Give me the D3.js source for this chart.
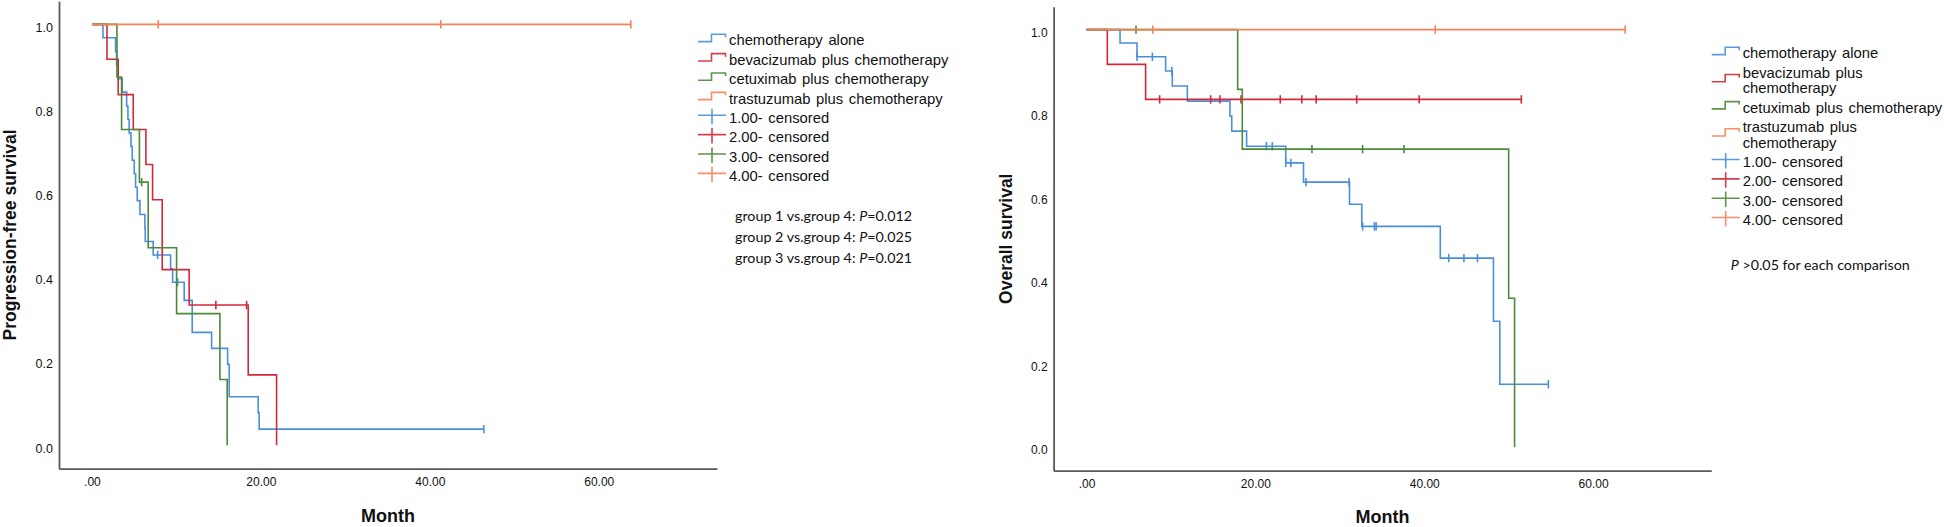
<!DOCTYPE html>
<html><head><meta charset="utf-8">
<script src="https://cdn.jsdelivr.net/npm/d3@7"></script>
<style>
html,body{margin:0;padding:0;background:#fff;}
svg{display:block;font-family:"Liberation Sans",Arial,sans-serif;}
</style></head>
<body>
<svg id="c" width="1944" height="527"></svg>
<script>
// ---------------- data ----------------
const groupNames = ["chemotherapy alone","bevacizumab plus chemotherapy","cetuximab plus chemotherapy","trastuzumab plus chemotherapy"];
const groupNamesWrapped = [["chemotherapy alone"],["bevacizumab plus","chemotherapy"],["cetuximab plus chemotherapy"],["trastuzumab plus","chemotherapy"]];
const censorLabels = ["1.00- censored","2.00- censored","3.00- censored","4.00- censored"];
const colors = ["#4a8fda","#d3283a","#4b8a38","#f7825a"];
const xTickValues = [0,20,40,60];
const xTickLabels = [".00","20.00","40.00","60.00"];
const yTickValues = [0,0.2,0.4,0.6,0.8,1.0];
const yTickLabels = ["0.0","0.2","0.4","0.6","0.8","1.0"];

// Progression-free survival (left)
const pfsChemoTimes = [1.3,2.8,2.92,3.11,3.59,4.11,4.26,4.41,4.62,4.77,5.01,5.17,5.36,5.68,6.27,6.31,7.25,9.31,9.55,10.92,11.87,14.17,16.06,16.25,19.68,19.8];
const pfsChemoSurv  = [0.968,0.935,0.903,0.871,0.839,0.806,0.774,0.742,0.710,0.677,0.645,0.613,0.581,0.548,0.516,0.484,0.452,0.419,0.387,0.344,0.268,0.230,0.192,0.115,0.077,0.038];
const pfsChemoCens  = [7.78,10.14,46.4];
const pfsBevaTimes = [1.78,3.11,4.89,6.39,7.18,8.32,11.51,18.5,21.86];
const pfsBevaSurv  = [0.917,0.833,0.75,0.667,0.583,0.417,0.333,0.167,0];
const pfsBevaCens  = [14.67,18.31];
const pfsCetuTimes = [2.96,3.51,5.62,6.66,10.02,15.15,16.01];
const pfsCetuSurv  = [0.875,0.75,0.625,0.469,0.3125,0.156,0];
const pfsCetuCens  = [5.88];
const pfsTrasTimes = [];
const pfsTrasSurv  = [];
const pfsTrasCens  = [7.85,41.3,63.8];

// Overall survival (right)
const osChemoTimes = [3.97,5.98,9.37,10.16,11.94,16.99,17.2,18.96,23.6,25.7,31.15,32.6,41.9,48.2,48.95];
const osChemoSurv  = [0.968,0.935,0.901,0.865,0.829,0.793,0.757,0.721,0.681,0.635,0.582,0.529,0.453,0.302,0.151];
const osChemoCens  = [5.98,7.8,10.1,21.3,22.0,23.6,24.2,26.0,31.1,32.7,34.1,34.3,42.9,44.7,46.3,54.7];
const osBevaTimes = [2.46,7.0];
const osBevaSurv  = [0.917,0.833];
const osBevaCens  = [8.66,14.7,15.8,18.3,22.95,25.5,27.2,32.0,39.4,51.5];
const osCetuTimes = [17.9,18.45,50.0,50.7];
const osCetuSurv  = [0.857,0.714,0.357,0];
const osCetuCens  = [5.86,26.7,32.7,37.6];
const osTrasTimes = [];
const osTrasSurv  = [];
const osTrasCens  = [7.85,41.3,63.8];

const pfsStats = [["group 1 vs.group 4: ","P","=0.012"],["group 2 vs.group 4: ","P","=0.025"],["group 3 vs.group 4: ","P","=0.021"]];
const osStats = [["","P"," >0.05 for each comparison"]];

// ---------------- drawing ----------------
const svg = d3.select("#c");
svg.append("rect").attr("width",1944).attr("height",527).attr("fill","#fff");

function survAt(times, surv, t){
  let s = 1;
  for (let i=0;i<times.length;i++){ if (times[i] <= t + 1e-9) s = surv[i]; }
  return s;
}

function panel(cfg){
  const x = d3.scaleLinear().domain([-3.9,74]).range(cfg.xRange);
  const y = d3.scaleLinear().domain([-0.056,1.055]).range(cfg.yRange);
  const g = svg.append("g");

  // axes
  const ax = g.append("g").attr("transform",`translate(0,${cfg.yRange[0]})`)
    .call(d3.axisBottom(x).tickValues(xTickValues).tickFormat((d,i)=>xTickLabels[i]).tickSize(0).tickSizeOuter(0).tickPadding(9));
  ax.select(".domain").attr("stroke","#5a5a5a").attr("stroke-width",1.8);
  ax.selectAll("text").attr("font-size",12).attr("fill","#111").attr("font-family","'Liberation Sans',Arial,sans-serif");
  const ay = g.append("g").attr("transform",`translate(${cfg.xRange[0]},0)`)
    .call(d3.axisLeft(y).tickValues(yTickValues).tickFormat((d,i)=>yTickLabels[i]).tickSize(0).tickSizeOuter(0).tickPadding(6));
  ay.select(".domain").attr("stroke","#5a5a5a").attr("stroke-width",1.8);
  ay.selectAll("text").attr("font-size",cfg.yFont).attr("fill","#111").attr("dy","0.55em").attr("font-family","'Liberation Sans',Arial,sans-serif");

  // curves
  cfg.series.forEach((s,k)=>{
    const lastEvent = s.times.length ? s.times[s.times.length-1] : 0;
    const end = Math.max(lastEvent, s.cens.length ? d3.max(s.cens) : 0);
    const pts = [[0,1]];
    let cur = 1;
    s.times.forEach((t,i)=>{ pts.push([t,cur]); pts.push([t,s.surv[i]]); cur = s.surv[i]; });
    if (end > lastEvent) pts.push([end,cur]);
    const line = d3.line().x(d=>x(d[0])).y(d=>y(d[1]));
    g.append("path").attr("d",line(pts)).attr("fill","none")
      .attr("stroke",colors[k]).attr("stroke-width",1.6).attr("stroke-linejoin","miter");
    s.cens.forEach(t=>{
      const v = survAt(s.times,s.surv,t);
      g.append("line").attr("x1",x(t)).attr("x2",x(t)).attr("y1",y(v)-4.2).attr("y2",y(v)+4.2)
        .attr("stroke",colors[k]).attr("stroke-width",1.6);
    });
  });

  // axis titles
  g.append("text").attr("transform",`translate(${cfg.yTitleX},${(cfg.yRange[0]+cfg.yRange[1])/2}) rotate(-90)`)
    .attr("text-anchor","middle").attr("font-weight","bold").attr("font-size",cfg.yTitleFont).attr("fill","#111")
    .text(cfg.yTitle);
  g.append("text").attr("x",(cfg.xRange[0]+cfg.xRange[1])/2).attr("y",cfg.monthY)
    .attr("text-anchor","middle").attr("font-weight","bold").attr("font-size",18).attr("fill","#111").text("Month");

  // legend
  const lx = cfg.legX;
  let rowY = cfg.legY;
  const lg = g.append("g");
  groupNames.forEach((nm,k)=>{
    const lines = cfg.wrap ? groupNamesWrapped[k] : [nm];
    const cy = rowY + (lines.length-1)*cfg.lineGap/2;
    lg.append("path").attr("d",`M${lx},${cy+1.3}H${lx+13.5}V${cy-6}H${lx+27.5}V${cy-3}`)
      .attr("fill","none").attr("stroke",colors[k]).attr("stroke-width",1.6).attr("opacity",0.9);
    lines.forEach((ln,j)=>{
      lg.append("text").attr("x",lx+31).attr("y",rowY + j*cfg.lineGap).attr("dy","0.35em")
        .attr("font-size",14.8).attr("fill","#111").attr("word-spacing","1.5px").text(ln);
    });
    rowY += (lines.length-1)*cfg.lineGap + cfg.rowGap;
  });
  censorLabels.forEach((nm,k)=>{
    const cy = rowY;
    lg.append("path").attr("d",`M${lx},${cy-2.4}H${lx+28}M${lx+14},${cy-9}V${cy+6.5}`)
      .attr("fill","none").attr("stroke",colors[k]).attr("stroke-width",1.6).attr("opacity",0.9);
    lg.append("text").attr("x",lx+31).attr("y",cy).attr("dy","0.35em")
      .attr("font-size",14.8).attr("fill","#111").attr("word-spacing","1.5px").text(nm);
    rowY += cfg.rowGap;
  });

  // stats text
  cfg.stats.forEach((parts,i)=>{
    const t = g.append("text").attr("x",cfg.statX).attr("y",cfg.statY + i*21).attr("dy","0.35em")
      .attr("font-family","Lato,'Open Sans',sans-serif").attr("font-size",cfg.statFont).attr("fill","#111");
    t.append("tspan").text(parts[0]);
    t.append("tspan").attr("font-style","italic").text(parts[1]);
    t.append("tspan").text(parts[2]);
  });
}

panel({
  xRange:[59,717], yRange:[468.7,1.2], yFont:12.5,
  series:[
    {times:pfsChemoTimes,surv:pfsChemoSurv,cens:pfsChemoCens},
    {times:pfsBevaTimes,surv:pfsBevaSurv,cens:pfsBevaCens},
    {times:pfsCetuTimes,surv:pfsCetuSurv,cens:pfsCetuCens},
    {times:pfsTrasTimes,surv:pfsTrasSurv,cens:pfsTrasCens}],
  yTitle:"Progression-free survival", yTitleX:16, yTitleFont:17.5, monthY:522,
  legX:698, legY:40.3, rowGap:19.35, lineGap:15.6, wrap:false,
  stats:pfsStats, statX:735, statY:216, statFont:14.3
});
panel({
  xRange:[1053.6,1711.3], yRange:[470.7,6.7], yFont:12,
  series:[
    {times:osChemoTimes,surv:osChemoSurv,cens:osChemoCens},
    {times:osBevaTimes,surv:osBevaSurv,cens:osBevaCens},
    {times:osCetuTimes,surv:osCetuSurv,cens:osCetuCens},
    {times:osTrasTimes,surv:osTrasSurv,cens:osTrasCens}],
  yTitle:"Overall survival", yTitleX:1011.5, yTitleFont:17.5, monthY:522.5,
  legX:1711.7, legY:53.3, rowGap:19.35, lineGap:15.6, wrap:true,
  stats:osStats, statX:1730.7, statY:265, statFont:14.3
});
</script>
</body></html>
